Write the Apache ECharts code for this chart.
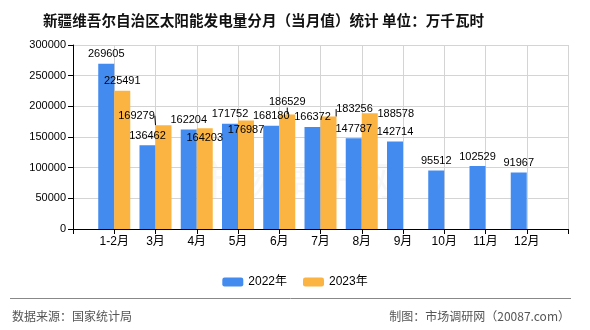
<!DOCTYPE html>
<html><head><meta charset="utf-8">
<script src="https://cdn.jsdelivr.net/npm/echarts@6/dist/echarts.min.js"></script>
<style>html,body{margin:0;padding:0;background:#fff}#c{width:590px;height:330px}</style>
</head><body><div id="c"></div>
<script>
const categories = ['', '1-2月', '3月', '4月', '5月', '6月', '7月', '8月', '9月', '10月', '11月', '12月', ''];
const values2022 = [null, 269605, 136462, 162204, 171752, 168180, 166372, 147787, 142714, 95512, 102529, 91967, null];
const values2023 = [null, 225491, 169279, 164203, 176987, 186529, 183256, 188578, null, null, null, null, null];
const yTicks = { min: 0, max: 300000, interval: 50000 };
const seriesNames = ['2022年', '2023年'];

// label nudges for 2023 labels (layout only): [dx, dy, leaderLine]
const nudge2023 = {2: [-27, 0, true], 3: [0, 19], 4: [0, 19], 5: [0, -3, true], 6: [26, 2, true], 7: [26, 10]};

const FONT = "Arial, 'Liberation Sans', 'Noto Sans CJK SC', sans-serif";
const chart = echarts.init(document.getElementById('c'), null, {renderer: 'canvas'});

const d2023 = values2023.map((v, i) => {
  if (v == null) return v;
  const n = nudge2023[i];
  if (n && n[2]) return {value: v};
  return {value: v, labelLine: {show: false}};
});

chart.setOption({
  animation: false,
  title: {
    text: '新疆维吾尔自治区太阳能发电量分月（当月值）统计 单位：万千瓦时',
    left: 38, top: 8,
    textStyle: {fontSize: 14.6, fontWeight: 'bold', color: '#111', fontFamily: "'Noto Sans CJK SC', sans-serif"}
  },
  legend: {
    top: 271, left: 'center', itemWidth: 21, itemHeight: 9, itemGap: 16,
    textStyle: {fontSize: 12, color: '#000', fontFamily: FONT},
    data: seriesNames
  },
  grid: {left: 73, right: 22, top: 45, bottom: 101},
  xAxis: {
    type: 'category', data: categories, boundaryGap: false,
    axisLine: {lineStyle: {color: '#000', width: 1}},
    axisTick: {show: true, length: 5, lineStyle: {color: '#000'}},
    axisLabel: {fontSize: 12, color: '#000', margin: 7, fontFamily: FONT, interval: 0},
    splitLine: {show: true, lineStyle: {color: '#d4d4d4'}}
  },
  yAxis: {
    type: 'value', min: yTicks.min, max: yTicks.max, interval: yTicks.interval,
    axisLine: {show: true, lineStyle: {color: '#000'}},
    axisTick: {show: true, length: 5, lineStyle: {color: '#000'}},
    axisLabel: {fontSize: 11, color: '#000', margin: 7, fontFamily: FONT, formatter: v => String(v)},
    splitLine: {show: true, lineStyle: {color: '#d4d4d4'}}
  },
  graphic: [
    {type: 'text', left: 'center', top: 160, z: 0, style: {text: '市场调研网', fontSize: 40, fill: 'rgba(200,200,200,0.12)', fontFamily: "'Noto Sans CJK SC'"}},
    {type: 'line', shape: {x1: 10, y1: 298.5, x2: 571, y2: 298.5}, style: {stroke: '#888', lineWidth: 1}},
    {type: 'text', left: 12, top: 310, style: {text: '数据来源：国家统计局', fontSize: 12, fill: '#555', fontFamily: "'Noto Sans CJK SC'"}},
    {type: 'text', right: 20, top: 310, style: {text: '制图：市场调研网（20087.com）', fontSize: 12, fill: '#555', fontFamily: "'Noto Sans CJK SC'"}}
  ],
  series: [
    {
      name: seriesNames[0], type: 'bar', data: values2022, barWidth: 16, barGap: '0%',
      itemStyle: {color: '#438BEE'},
      label: {show: true, position: 'top', fontSize: 11, color: '#000', fontFamily: FONT, distance: 4}
    },
    {
      name: seriesNames[1], type: 'bar', data: d2023, barWidth: 16,
      itemStyle: {color: '#FBB442'},
      label: {show: true, position: 'top', fontSize: 11, color: '#000', fontFamily: FONT, distance: 4},
      labelLine: {show: true, length2: 0, lineStyle: {color: '#000', width: 1}},
      labelLayout: function (p) {
        const n = nudge2023[p.dataIndex];
        return n ? {dx: n[0], dy: n[1]} : {};
      }
    }
  ]
});
</script></body></html>
